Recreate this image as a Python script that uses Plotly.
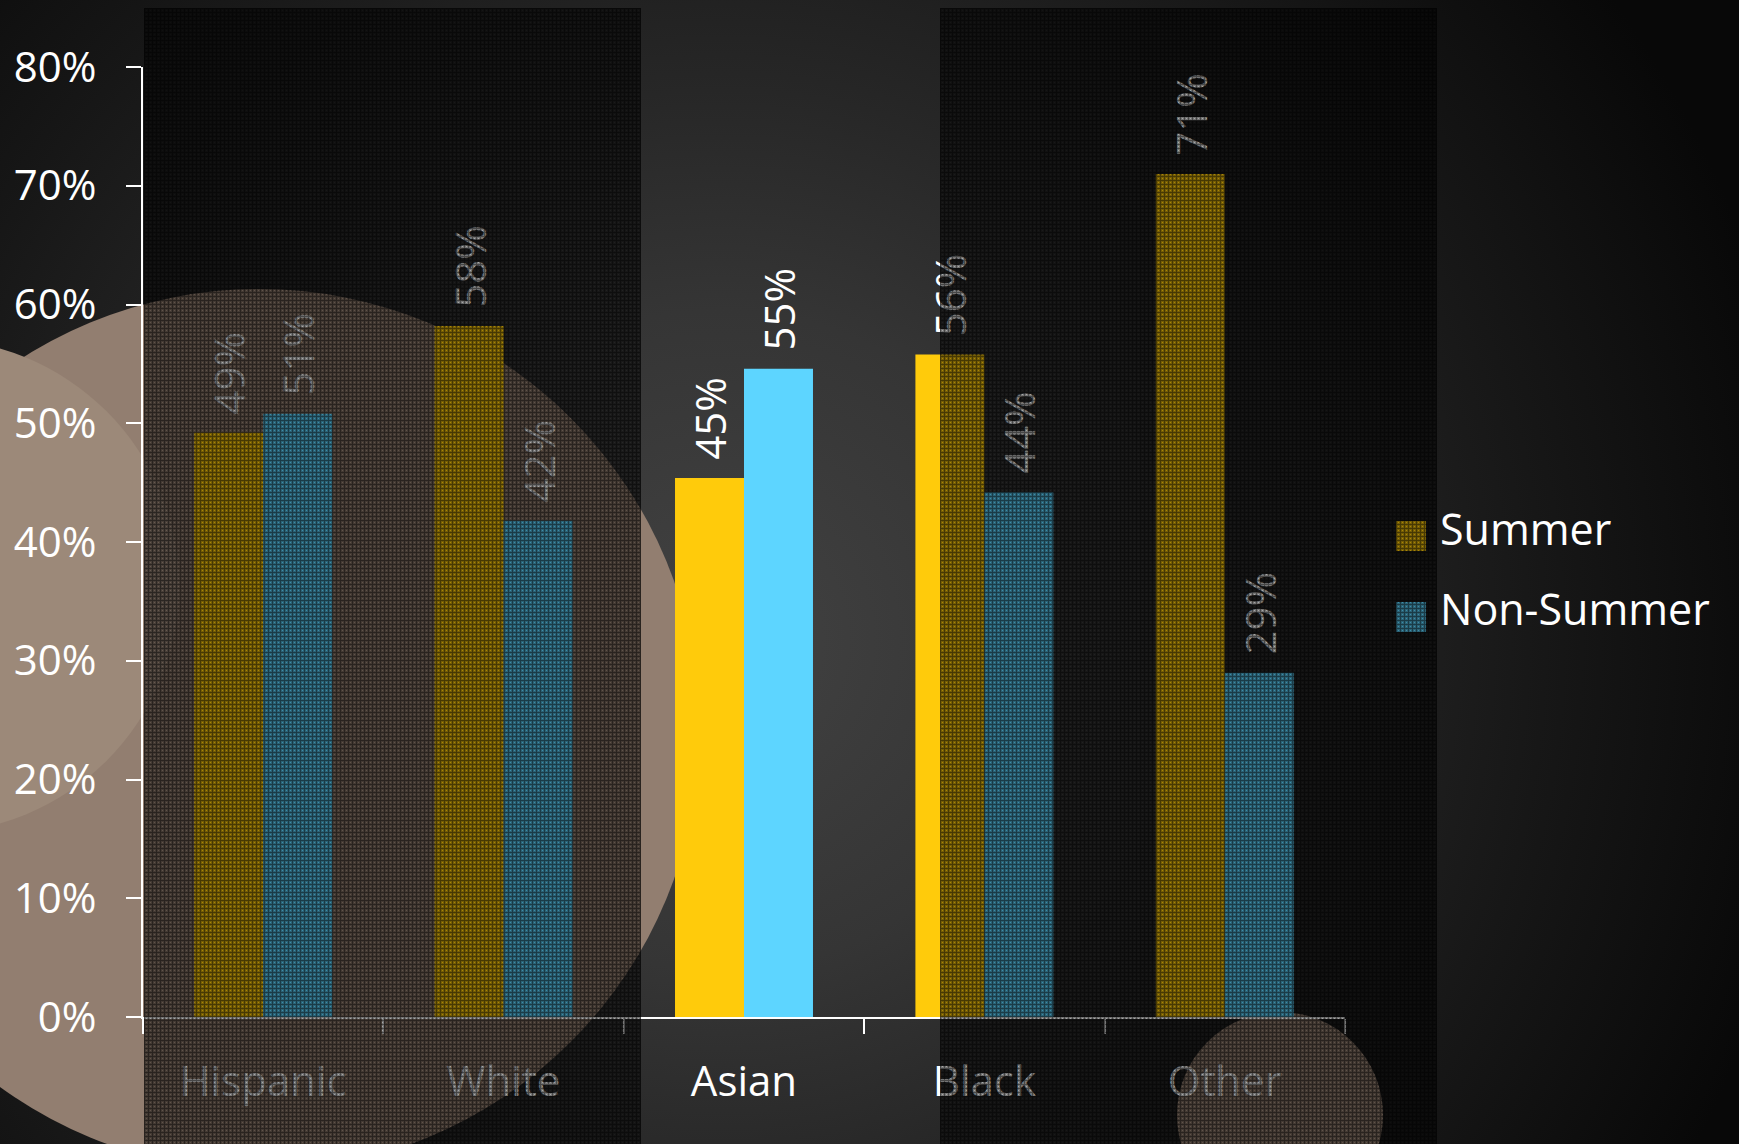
import base64
import plotly.graph_objects as go

# ---------------- data ----------------
categories = ["Hispanic", "White", "Asian", "Black", "Other"]
series_names = ["Summer", "Non-Summer"]
summer = [49.2, 58.2, 45.4, 55.8, 71.0]
non_summer = [50.8, 41.8, 54.6, 44.2, 29.0]
y_tick_vals = [0, 10, 20, 30, 40, 50, 60, 70, 80]
y_tick_text = ["0%", "10%", "20%", "30%", "40%", "50%", "60%", "70%", "80%"]
series_colors = ["#ffcb0b", "#5dd5ff"]

# ---------------- geometry ----------------
W, H = 1739, 1144
L, R, T, B = 143, 394, 67, 127
PW = W - L - R
PH = H - T - B
FONT = "Open Sans"


def px(xp):
    return (xp - L) / PW


def py(yp):
    return 1 - (yp - T) / PH


def svg_uri(svg):
    return "data:image/svg+xml;base64," + base64.b64encode(svg.encode("utf-8")).decode("ascii")


# background radial gradient
bg_svg = f'''<svg xmlns="http://www.w3.org/2000/svg" width="{W}" height="{H}" viewBox="0 0 {W} {H}" preserveAspectRatio="none">
<defs><radialGradient id="g" gradientUnits="userSpaceOnUse" cx="720" cy="640" r="1100">
<stop offset="0" stop-color="#424242"/>
<stop offset="0.3" stop-color="#353535"/>
<stop offset="0.5" stop-color="#272727"/>
<stop offset="0.75" stop-color="#171717"/>
<stop offset="1" stop-color="#080808"/>
</radialGradient></defs>
<rect x="0" y="0" width="{W}" height="{H}" fill="url(#g)"/>
</svg>'''

# dark dotted panels (overlay)
panel_svg = f'''<svg xmlns="http://www.w3.org/2000/svg" width="{W}" height="{H}" viewBox="0 0 {W} {H}" preserveAspectRatio="none" shape-rendering="crispEdges">
<defs><pattern id="p" x="0" y="0" width="4" height="4" patternUnits="userSpaceOnUse">
<rect x="0" y="0" width="4" height="1" fill="#000" fill-opacity="0.72"/>
<rect x="0" y="1" width="1" height="3" fill="#000" fill-opacity="0.72"/>
<rect x="1" y="1" width="3" height="1" fill="#000" fill-opacity="0.54"/>
<rect x="1" y="2" width="1" height="1" fill="#000" fill-opacity="0.54"/>
<rect x="2" y="2" width="1" height="1" fill="#000" fill-opacity="0.34"/>
<rect x="3" y="2" width="1" height="1" fill="#000" fill-opacity="0.54"/>
<rect x="1" y="3" width="3" height="1" fill="#000" fill-opacity="0.54"/>
</pattern></defs>
<rect x="144" y="8" width="497" height="{H - 8}" fill="url(#p)"/>
<rect x="940" y="8" width="497" height="{H - 8}" fill="url(#p)"/>
</svg>'''

full_img = dict(xref="paper", yref="paper", x=px(0), y=py(0),
                sizex=W / PW, sizey=H / PH, xanchor="left", yanchor="top",
                sizing="stretch")

fig = go.Figure()
texttpl = "\u00a0\u200a%{y:.0f}%"
for name, vals, col in zip(series_names, [summer, non_summer], series_colors):
    fig.add_trace(go.Bar(
        x=categories, y=vals, name=name, marker=dict(color=col, line=dict(width=0)),
        texttemplate=texttpl, textposition="outside", textangle=-90,
        textfont=dict(family=FONT, size=42, color="#ffffff"),
        constraintext="none", cliponaxis=False, showlegend=False,
        hoverinfo="skip",
    ))


def circle(cx, cy, r, color):
    return dict(type="circle", xref="paper", yref="paper",
                x0=px(cx - r), x1=px(cx + r), y0=py(cy + r), y1=py(cy - r),
                fillcolor=color, line=dict(width=0), layer="below")


def rect(x0, y0, x1, y1, color):
    return dict(type="rect", xref="paper", yref="paper",
                x0=px(x0), x1=px(x1), y0=py(y1), y1=py(y0),
                fillcolor=color, line=dict(width=0), layer="below")


shapes = [
    circle(259, 730, 441, "#927e70"),
    circle(-68, 586, 247, "#9c8979"),
    circle(1280, 1115, 103, "#927e70"),
    rect(1396, 521, 1426, 551, series_colors[0]),
    rect(1396, 602, 1426, 632, series_colors[1]),
]

annotations = [
    dict(xref="paper", yref="paper", x=px(1438), y=py(528), text=series_names[0],
         showarrow=False, xanchor="left", yanchor="middle",
         font=dict(family=FONT, size=43, color="#ffffff")),
    dict(xref="paper", yref="paper", x=px(1438), y=py(608), text=series_names[1],
         showarrow=False, xanchor="left", yanchor="middle",
         font=dict(family=FONT, size=43, color="#ffffff")),
]

fig.update_layout(
    width=W, height=H,
    margin=dict(l=L, r=R, t=T, b=B, autoexpand=False),
    paper_bgcolor="#101010",
    plot_bgcolor="rgba(0,0,0,0)",
    barmode="group", bargap=0.426, bargroupgap=0,
    showlegend=False,
    font=dict(family=FONT, color="#ffffff"),
    images=[dict(source=svg_uri(bg_svg), layer="below", **full_img),
            dict(source=svg_uri(panel_svg), layer="above", **full_img)],
    shapes=shapes,
    annotations=annotations,
    hovermode=False,
)
fig.update_xaxes(
    type="category", showline=True, linecolor="#ffffff", linewidth=2,
    ticks="outside", tickson="boundaries", ticklen=15, tickwidth=2, tickcolor="#ffffff",
    tickfont=dict(family=FONT, size=42, color="#ffffff"), ticklabelstandoff=27,
    showgrid=False, zeroline=False,
)
fig.update_yaxes(
    range=[0, 80], tickmode="array", tickvals=y_tick_vals, ticktext=y_tick_text,
    showline=True, linecolor="#ffffff", linewidth=2,
    ticks="outside", ticklen=15, tickwidth=2, tickcolor="#ffffff",
    tickfont=dict(family=FONT, size=42, color="#ffffff"), ticklabelstandoff=21,
    showgrid=False, zeroline=False,
)

fig.write_html(
    "out.html",
    config={"displayModeBar": False},
    post_script="document.body.style.margin='0';document.body.style.overflow='hidden';document.body.style.background='#080808';",
)
